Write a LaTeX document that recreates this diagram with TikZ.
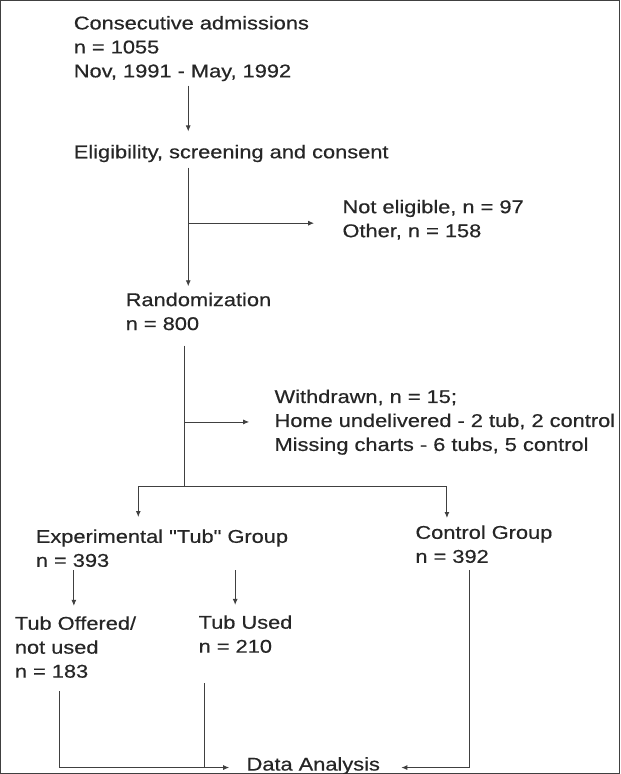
\documentclass[tikz,border=0pt]{standalone}
\usepackage{fontspec}
\setmainfont{Liberation Sans}[FakeStretch=1.18, FakeBold=0.5, Ligatures=TeXOff]
\usetikzlibrary{arrows.meta}

\begin{document}
\begin{tikzpicture}[x=1pt,y=-1pt]
\tikzset{txt/.style={anchor=base west, inner sep=0pt, align=left, text=black!85,
    font=\fontsize{18.5}{24}\selectfont},
  arr/.style={-{Latex[length=6pt,width=5pt]}},
  every path/.style={draw=black!75, line width=0.9pt}}
\useasboundingbox (0,0) rectangle (620,774);
\node[txt] (admit) at (73,77) {Consecutive admissions\\n = 1055\\Nov, 1991 - May, 1992};
\node[txt] (elig) at (73,158) {Eligibility, screening and consent};
\node[txt] (notelig) at (342,237) {Not eligible, n = 97\\Other, n = 158};
\node[txt] (rand) at (125,330) {Randomization\\n = 800};
\node[txt] (withd) at (274,451) {Withdrawn, n = 15;\\Home undelivered - 2 tub, 2 control\\Missing charts - 6 tubs, 5 control};
\node[txt] (exper) at (35,567) {Experimental "Tub" Group\\n = 393};
\node[txt] (ctrl) at (415,563) {Control Group\\n = 392};
\node[txt] (offered) at (14,678) {Tub Offered/\\not used\\n = 183};
\node[txt] (used) at (198,653) {Tub Used\\n = 210};
\node[txt] (data) at (246,771) {Data Analysis};
\coordinate (split1) at (188,223);
\coordinate (split2) at (184,422);
\coordinate (forkL) at (138,487);
\coordinate (forkM) at (184,487);
\coordinate (forkR) at (447,487);
\coordinate (dropO) at (73.5,0);
\coordinate (dropU) at (235,0);
\coordinate (mergeL) at (59,768);
\coordinate (mergeM) at (204,768);
\coordinate (mergeR) at (470,768);
\draw[arr, shorten <=4pt, shorten >=13pt] (admit.south -| split1) -- (elig.north -| split1);
\draw[arr, shorten <=5pt, shorten >=6pt] (elig.south -| split1) -- (rand.north -| split1);
\draw[arr, shorten >=28pt] (split1) -- (split1 -| notelig.west);
\draw[shorten <=15pt] (rand.south -| forkM) -- (forkM);
\draw[arr, shorten >=25pt] (split2) -- (split2 -| withd.west);
\draw (forkL) -- (forkR);
\draw[arr, shorten >=12pt] (forkL) -- (forkL |- exper.north);
\draw[arr, shorten >=7pt] (forkR) -- (forkR |- ctrl.north);
\draw[arr, shorten <=3pt, shorten >=10pt] (exper.south -| dropO) -- (offered.north -| dropO);
\draw[arr, shorten <=3pt, shorten >=10pt] (exper.south -| dropU) -- (used.north -| dropU);
\draw[arr, shorten <=13pt, shorten >=17pt] (offered.south -| mergeL) -- (mergeL) -- (mergeL -| data.west);
\draw[shorten <=30pt] (used.south -| mergeM) -- (mergeM);
\draw[arr, shorten <=7pt, shorten >=21pt] (ctrl.south -| mergeR) -- (mergeR) -- (mergeR -| data.east);
\end{tikzpicture}
\end{document}
